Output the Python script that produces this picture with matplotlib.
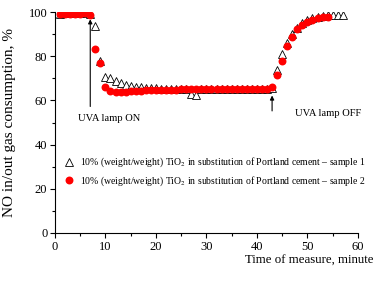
import matplotlib
matplotlib.use('Agg')
import matplotlib.pyplot as plt
from matplotlib.ticker import MultipleLocator

plt.rcParams['font.family'] = ['Liberation Serif', 'DejaVu Serif']
plt.rcParams['mathtext.fontset'] = 'stix'

# sample 1 (open triangles)
t1 = [1, 2, 3, 4, 5, 6, 7, 8, 9, 10, 11, 12, 13, 14, 15, 16, 17, 18, 19, 20,
      21, 22, 23, 24, 25, 26, 27, 28, 29, 30, 31, 32, 33, 34, 35, 36, 37, 38, 39, 40,
      41, 42, 43, 44, 45, 46, 47, 48, 49, 50, 51, 52, 53, 54, 55, 56, 57]
s1 = [99.3, 99.4, 99.4, 99.4, 99.4, 99.4, 99.2, 93.7, 78.0, 70.4, 70.2, 68.8, 67.7, 67.0, 66.5, 66.2, 66.0, 65.8, 65.6, 65.5,
      65.4, 65.3, 65.3, 65.2, 65.2, 65.2, 63.0, 62.5, 65.1, 65.1, 65.1, 65.1, 65.1, 65.1, 65.1, 65.1, 65.1, 65.1, 65.1, 65.1,
      65.1, 65.2, 65.5, 74.0, 81.0, 86.0, 90.0, 93.0, 95.0, 96.5, 97.5, 98.0, 98.4, 98.6, 98.6, 98.6, 98.6]

# sample 2 (filled circles)
t2 = [1, 2, 3, 4, 5, 6, 7, 8, 9, 10, 11, 12, 13, 14, 15, 16, 17, 18, 19, 20,
      21, 22, 23, 24, 25, 26, 27, 28, 29, 30, 31, 32, 33, 34, 35, 36, 37, 38, 39, 40,
      41, 42, 43, 44, 45, 46, 47, 48, 49, 50, 51, 52, 53, 54]
s2 = [99.0, 99.2, 99.3, 99.3, 99.3, 99.4, 98.6, 83.3, 77.0, 66.2, 64.4, 63.7, 63.8, 64.0, 64.2, 64.4, 64.5, 64.6, 64.7, 64.8,
      64.8, 64.9, 64.9, 64.9, 65.0, 65.0, 65.0, 65.0, 65.0, 65.0, 65.0, 65.0, 65.0, 65.0, 65.0, 65.0, 65.0, 65.0, 65.0, 65.0,
      65.0, 65.0, 65.9, 71.5, 78.0, 84.6, 88.8, 92.2, 94.2, 95.6, 96.5, 97.2, 97.6, 98.0]

lab1 = '10% (weight/weight) TiO$_2$ in substitution of Portland cement \u2013 sample 1'
lab2 = '10% (weight/weight) TiO$_2$ in substitution of Portland cement \u2013 sample 2'

fig = plt.figure(figsize=(3.76, 2.82), dpi=100)
ax = fig.add_axes([0.146, 0.174, 0.806, 0.783])

ax.plot(t1, s1, linestyle='none', marker='^', markersize=5.8, markerfacecolor='white',
        markeredgecolor='black', markeredgewidth=0.6, label=lab1)
ax.plot(t2, s2, linestyle='none', marker='o', markersize=5.7, color='#ff0000',
        markeredgewidth=0, label=lab2)

ax.annotate('', xy=(7, 98), xytext=(7, 56),
            arrowprops=dict(arrowstyle='-|>', color='black', lw=0.8, mutation_scale=6))
ax.annotate('', xy=(43, 63.5), xytext=(43, 54),
            arrowprops=dict(arrowstyle='-|>', color='black', lw=0.8, mutation_scale=6))
ax.text(4.5, 52, 'UVA lamp ON', fontsize=7.6, va='center')
ax.text(47.5, 54, 'UVA lamp OFF', fontsize=7.6, va='center')

ax.set_xlim(0, 60)
ax.set_ylim(0, 100)
ax.xaxis.set_major_locator(MultipleLocator(10))
ax.xaxis.set_minor_locator(MultipleLocator(5))
ax.yaxis.set_major_locator(MultipleLocator(20))
ax.yaxis.set_minor_locator(MultipleLocator(10))
ax.tick_params(which='both', direction='out', labelsize=9, width=0.8, pad=2)
ax.tick_params(which='major', length=3.5)
ax.tick_params(which='minor', length=2)
for side in ['top', 'right']:
    ax.spines[side].set_visible(False)

ax.set_ylabel('NO in/out gas consumption, %', fontsize=11)
ax.yaxis.set_label_coords(-0.128, 0.5)
ax.set_xlabel('Time of measure, minute', fontsize=9.3)
ax.xaxis.set_label_coords(1.05, -0.125)
ax.xaxis.label.set_horizontalalignment('right')
ax.xaxis.label.set_verticalalignment('center')

ax.legend(loc='upper left', bbox_to_anchor=(0.0, 0.38), frameon=False, fontsize=7,
          handletextpad=0.4, labelspacing=0.5, borderpad=0.2, handlelength=1.5)

fig.savefig('out.png', dpi=100)
